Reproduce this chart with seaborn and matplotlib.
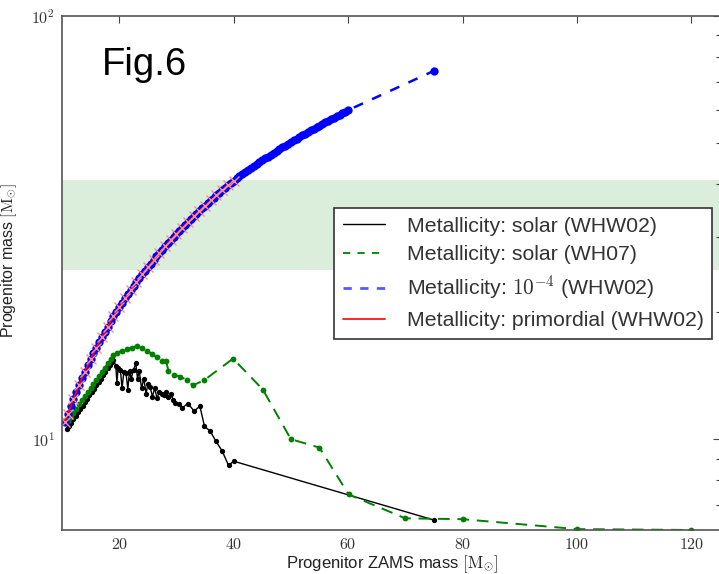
import matplotlib
matplotlib.use("Agg")
import matplotlib.pyplot as plt
import seaborn as sns
from matplotlib.lines import Line2D
from matplotlib.ticker import LogLocator, NullFormatter, FixedLocator, FixedFormatter

# ---------------- data ----------------
# Metallicity: solar (WHW02) -- black
solar_whw_x = [10.8, 11.2, 11.6, 12.0, 12.4, 12.8, 13.2, 13.6, 14.0, 14.4, 14.8, 15.2, 15.6,
               16.0, 16.4, 16.8, 17.2, 17.6, 18.0, 18.4, 18.8, 19.0,
               19.4, 19.6, 19.8, 20.2, 20.5, 20.8, 21.2, 21.5, 21.8, 22.1, 22.5, 22.9, 23.2,
               23.5, 23.9, 24.3, 24.7, 25.0, 25.4, 25.8, 26.2, 26.6, 27.0, 27.4, 27.8, 28.2,
               28.6, 29.0, 29.4, 29.8, 30.4, 31.0, 32.0, 33.1, 34.1, 34.9, 35.9, 36.9, 38.0,
               39.1, 40.0, 75.0]
solar_whw_y = [10.55, 10.75, 10.94, 11.15, 11.35, 11.57, 11.78, 12.0, 12.23, 12.45, 12.69, 12.92, 13.16,
               13.41, 13.66, 13.91, 14.17, 14.43, 14.70, 14.98, 15.25, 15.4,
               14.9, 13.6, 14.7, 14.6, 13.2, 14.4, 14.3, 13.1, 14.5, 13.9, 14.6, 15.1, 13.9,
               14.5, 13.2, 13.9, 12.8, 13.5, 13.3, 12.6, 13.2, 12.5, 12.9, 12.8, 12.7, 12.9,
               12.6, 12.8, 12.4, 12.2, 12.1, 11.86, 12.14, 11.65, 11.97, 10.73, 10.44, 9.89, 9.37,
               8.67, 8.87, 6.44]

# Metallicity: solar (WH07) -- green
solar_wh07_x = [11.0, 11.5, 12.0, 12.5, 13.0, 13.5, 14.0, 14.5, 15.0, 15.5, 16.0, 16.5, 17.0,
                17.5, 18.0, 18.5, 19.0, 19.6, 20.5, 21.3, 22.2, 23.1, 24.0, 24.8, 25.7, 26.6,
                27.4, 28.2, 28.6, 29.5, 30.7, 31.8, 32.9, 34.9, 39.9, 45.1, 50.0, 55.0, 60.1,
                70.0, 80.0, 100.0, 120.0]
solar_wh07_y = [11.05, 11.3, 11.55, 11.8, 12.08, 12.35, 12.63, 12.9, 13.2, 13.5, 13.8, 14.1, 14.43,
                14.75, 15.1, 15.45, 15.8, 16.0, 16.2, 16.35, 16.45, 16.6, 16.45, 16.2, 15.9, 15.6,
                15.3, 15.3, 14.5, 14.2, 14.05, 13.8, 13.4, 13.8, 15.5, 13.1, 10.0, 9.55, 7.4,
                6.5, 6.47, 6.13, 6.1]

# Metallicity: 1e-4 (WHW02) -- blue
low_z_x = [10.5, 11.0, 11.5, 12.0, 12.5, 13.0, 13.5, 14.0, 14.5, 15.0, 15.5, 16.0, 16.5, 17.0,
           17.5, 18.0, 18.5, 19.0, 19.5, 20.0, 20.5, 21.0, 21.5, 22.0, 22.5, 23.0, 23.5, 24.0,
           24.5, 25.0, 25.5, 26.0, 26.5, 27.0, 27.5, 28.0, 28.5, 29.0, 29.5, 30.0, 30.5, 31.0,
           31.5, 32.0, 32.5, 33.0, 33.5, 34.0, 34.5, 35.0, 35.5, 36.0, 36.5, 37.0, 37.5, 38.0,
           38.5, 39.0, 39.5, 40.0, 40.5, 41.0, 41.5, 42.0, 42.5, 43.0, 43.5, 44.0, 44.5, 45.0,
           45.5, 46.0, 46.5, 47.0, 47.5, 48.0, 48.5, 49.0, 49.5, 50.0, 50.5, 51.0, 51.5, 52.0,
           52.5, 53.0, 53.5, 54.0, 54.5, 55.0, 55.5, 56.0, 56.5, 57.0, 57.5, 58.0, 58.5, 59.0,
           59.5, 60.0, 75.0]
low_z_y = [10.95, 11.45, 11.95, 12.45, 12.95, 13.45, 13.95, 14.45, 14.95, 15.45, 15.95, 16.45,
           16.95, 17.45, 17.95, 18.45, 18.97, 19.5, 20.0, 20.5, 21.0, 21.5, 22.0, 22.5, 23.0,
           23.5, 24.0, 24.5, 25.0, 25.5, 26.0, 26.5, 27.02, 27.55, 28.05, 28.55, 29.07, 29.6,
           30.1, 30.6, 31.1, 31.6, 32.1, 32.6, 33.1, 33.6, 34.12, 34.65, 35.15, 35.65, 36.17,
           36.7, 37.2, 37.7, 38.22, 38.75, 39.27, 39.8, 40.32, 40.85, 41.32, 41.8, 42.27, 42.75,
           43.22, 43.7, 44.17, 44.65, 45.12, 45.6, 46.07, 46.55, 47.02, 47.5, 47.97, 48.45,
           48.92, 49.4, 49.87, 50.35, 50.82, 51.3, 51.77, 52.25, 52.72, 53.2, 53.67, 54.15,
           54.62, 55.1, 55.57, 56.05, 56.52, 57.0, 57.47, 57.95, 58.42, 58.9, 59.4, 59.9, 74.2]

# Metallicity: primordial (WHW02) -- red
prim_x = [10.5, 11, 12, 13, 14, 15, 16, 17, 18, 19, 20, 21, 22, 23, 24, 25, 26, 27, 28, 29, 30,
          31, 32, 33, 34, 35, 36, 37, 38, 39, 40]
prim_y = [10.95, 11.45, 12.45, 13.45, 14.45, 15.45, 16.45, 17.45, 18.45, 19.5, 20.5, 21.5, 22.5,
          23.5, 24.5, 25.5, 26.5, 27.55, 28.55, 29.6, 30.6, 31.6, 32.6, 33.6, 34.65, 35.65,
          36.7, 37.7, 38.75, 39.8, 40.85]

band_low, band_high = 25.1, 41.0

series_labels = ["Metallicity: solar (WHW02)", "Metallicity: solar (WH07)",
                 r"Metallicity: $10^{-4}$ (WHW02)", "Metallicity: primordial (WHW02)"]
x_ticks = [20, 40, 60, 80, 100, 120]
x_tick_labels = ["$20$", "$40$", "$60$", "$80$", "$100$", "$120$"]
y_ticks = [10, 100]
y_tick_labels = ["$10^{1}$", "$10^{2}$"]

# ---------------- style ----------------
sns.set_style("white")
plt.rcParams["font.family"] = ["Liberation Sans", "DejaVu Sans"]
plt.rcParams["mathtext.fontset"] = "cm"

fig = plt.figure(figsize=(7.19, 5.74), dpi=100)
ax = fig.add_axes([62 / 719, 44 / 574, 658 / 719, 514 / 574])

ax.axhspan(band_low, band_high, color="green", alpha=0.14, lw=0, zorder=0)

sns.lineplot(x=solar_whw_x, y=solar_whw_y, ax=ax, color="black", marker="o", markersize=3.8,
             markeredgewidth=0, linewidth=1.0, sort=False, estimator=None, legend=False)
sns.lineplot(x=solar_wh07_x, y=solar_wh07_y, ax=ax, color="green", marker="o", markersize=4.2,
             markeredgewidth=0, linewidth=1.4, linestyle=(0, (6, 4)), sort=False,
             estimator=None, legend=False)
sns.lineplot(x=low_z_x, y=low_z_y, ax=ax, color="blue", marker="o", markersize=6,
             markeredgewidth=0, linewidth=1.8, linestyle=(0, (4, 4)), sort=False,
             estimator=None, legend=False)
sns.lineplot(x=prim_x, y=prim_y, ax=ax, color="red", marker="x", markersize=6.5,
             markeredgecolor=(1.0, 0.55, 0.55), markeredgewidth=1.0, linewidth=1.2,
             sort=False, estimator=None, legend=False)

ax.set_yscale("log")
ax.set_xlim(10, 125)
ax.set_ylim(6.1, 100)

ax.xaxis.set_major_locator(FixedLocator(x_ticks))
ax.xaxis.set_major_formatter(FixedFormatter(x_tick_labels))
ax.yaxis.set_major_locator(FixedLocator(y_ticks))
ax.yaxis.set_major_formatter(FixedFormatter(y_tick_labels))
ax.yaxis.set_minor_locator(LogLocator(base=10, subs=[2, 3, 4, 5, 6, 7, 8, 9]))
ax.yaxis.set_minor_formatter(NullFormatter())

ax.tick_params(which="both", direction="in", top=True, right=True, colors="#444444",
               labelcolor="#333333", width=0.8)
ax.tick_params(which="major", length=5, labelsize=11.5, pad=5)
ax.tick_params(which="minor", length=3)
ax.tick_params(axis="x", which="minor", top=False, bottom=False)

for s in ax.spines.values():
    s.set_color("#555555")
    s.set_linewidth(1.2)

ax.set_xlabel(r"Progenitor ZAMS mass $[\mathrm{M}_{\odot}]$", fontsize=12, color="#222222")
ax.set_ylabel(r"Progenitor mass $[\mathrm{M}_{\odot}]$", fontsize=11.5, color="#222222")
ax.xaxis.set_label_coords(0.502, -0.046)
ax.yaxis.set_label_coords(-0.066, 0.525)

ax.text(0.061, 0.885, "Fig.6", transform=ax.transAxes, fontsize=27.5, color="black",
        va="baseline", ha="left")

handles = [
    Line2D([], [], color="black", lw=1.0),
    Line2D([], [], color="green", lw=1.3, ls=(0, (4, 4))),
    Line2D([], [], color=(0.35, 0.35, 1.0), lw=2.0, ls=(0, (3, 3))),
    Line2D([], [], color="red", lw=1.2),
]
leg = ax.legend(handles, series_labels, loc="upper right", bbox_to_anchor=(0.988, 0.626),
                fontsize=15.3, frameon=True, fancybox=False, edgecolor="#333333", framealpha=1,
                borderpad=0.4, labelspacing=0.45, handlelength=2.0, handletextpad=1.0,
                borderaxespad=0)
leg.get_frame().set_linewidth(1.2)
for t in leg.get_texts():
    t.set_color("#333333")

fig.savefig("out.png", dpi=100)
